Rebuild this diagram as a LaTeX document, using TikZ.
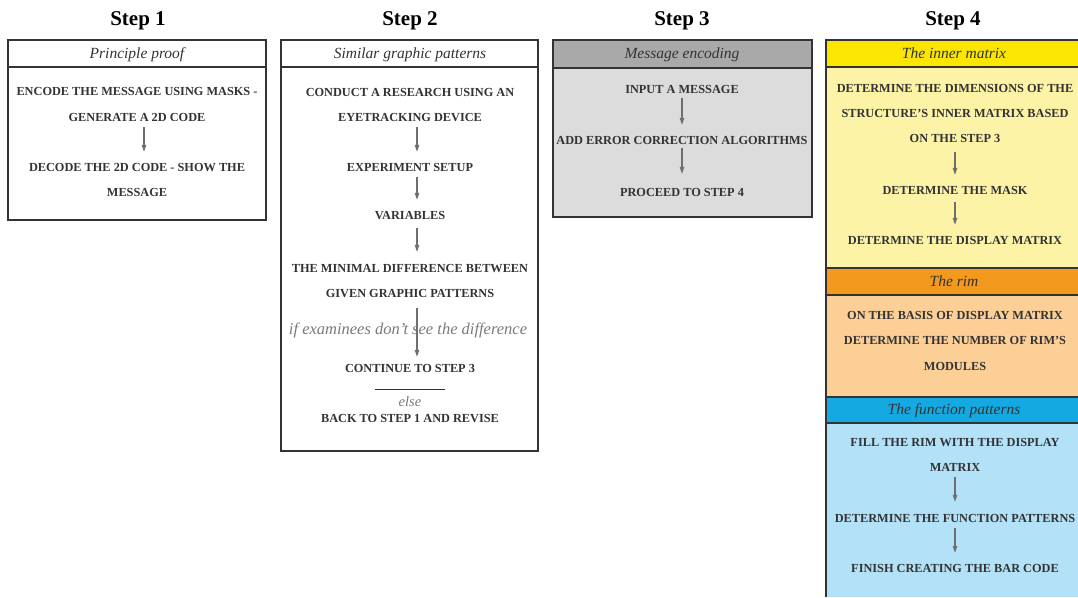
\documentclass[tikz,border=0pt]{standalone}
\usepackage{fontspec}
\setmainfont{Liberation Serif}
\usetikzlibrary{arrows.meta}
\definecolor{ink}{HTML}{333333}
\definecolor{arrowgray}{HTML}{6E6E6E}
\definecolor{condgray}{HTML}{7A7A7A}
\definecolor{grayhead}{HTML}{A9A9A9}
\definecolor{graybody}{HTML}{DCDCDC}
\definecolor{yelhead}{HTML}{FAE600}
\definecolor{yelbody}{HTML}{FCF3A6}
\definecolor{orahead}{HTML}{F39A1E}
\definecolor{orabody}{HTML}{FCCF96}
\definecolor{bluhead}{HTML}{14A9E1}
\definecolor{blubody}{HTML}{B3E1F7}
\begin{document}
\begin{tikzpicture}[x=1pt,y=-1pt,
  stephead/.style={font=\fontsize{21}{21}\selectfont\bfseries, text=black, inner sep=0pt, anchor=base},
  boxttl/.style={font=\fontsize{15.5}{15.5}\selectfont\itshape, text=ink, inner sep=0pt, anchor=base},
  sc/.style={font=\fontsize{12.3}{12.3}\selectfont\bfseries, text=ink, inner sep=0pt, text height=8pt, text depth=0pt},
  condtxt/.style={font=\fontsize{16.5}{16.5}\selectfont\itshape, text=condgray, inner sep=0pt, anchor=base},
  frame/.style={draw=ink, line width=1.1pt},
  flow/.style={draw=arrowgray, line width=1.1pt, -{Triangle[length=7pt,width=4.5pt]}, shorten <=6pt, shorten >=11pt},
]
\useasboundingbox (0,0) rectangle (1078,597);

% ---------- Step headers
\node[stephead] (h1) at (138,25) {Step 1};
\node[stephead] (h2) at (410,25) {Step 2};
\node[stephead] (h3) at (682,25) {Step 3};
\node[stephead] (h4) at (953,25) {Step 4};

% ---------- Box 1
\draw[frame] (8,40) rectangle (266,220);
\draw[frame] (8,67) -- (266,67);
\node[boxttl] (t1) at (137,58) {Principle proof};
\node[sc] (a1) at (137,91) {ENCODE THE MESSAGE USING MASKS -};
\node[sc] (a2) at (137,117) {GENERATE A 2D CODE};
\node[sc] (a3) at (137,167) {DECODE THE 2D CODE - SHOW THE};
\node[sc] (a4) at (137,192) {MESSAGE};
\draw[flow] ([xshift=7pt]a2.south) -- ([xshift=7pt]a3.north);

% ---------- Box 2
\draw[frame] (281,40) rectangle (538,451);
\draw[frame] (281,67) -- (538,67);
\node[boxttl] (t2) at (410,58) {Similar graphic patterns};
\node[sc] (b1) at (410,92) {CONDUCT A RESEARCH USING AN};
\node[sc] (b2) at (410,117) {EYETRACKING DEVICE};
\node[sc] (b3) at (410,167) {EXPERIMENT SETUP};
\node[sc] (b4) at (410,215) {VARIABLES};
\node[sc] (b5) at (410,268) {THE MINIMAL DIFFERENCE BETWEEN};
\node[sc] (b6) at (410,293) {GIVEN GRAPHIC PATTERNS};
\node[condtxt] (cond) at (408,334) {if examinees don’t see the difference};
\node[sc] (b7) at (410,368) {CONTINUE TO STEP 3};
\coordinate (rl) at (375,389);
\coordinate (rr) at (445,389);
\draw[draw=ink, line width=0.8pt] (rl) -- (rr);
\node[condtxt, font=\fontsize{14.5}{14.5}\selectfont\itshape] (else) at (410,406) {else};
\node[sc] (b8) at (410,418) {BACK TO STEP 1 AND REVISE};
\draw[flow] ([xshift=7pt]b2.south) -- ([xshift=7pt]b3.north);
\draw[flow] ([xshift=7pt]b3.south) -- ([xshift=7pt]b4.north);
\draw[flow, shorten <=9pt, shorten >=12pt] ([xshift=7pt]b4.south) -- ([xshift=7pt]b5.north);
\draw[flow, shorten <=11pt, shorten >=7pt] ([xshift=7pt]b6.south) -- ([xshift=7pt]b7.north);

% ---------- Box 3
\draw[frame, fill=graybody] (553,40) rectangle (812,217);
\draw[frame, fill=grayhead] (553,40) rectangle (812,68);
\node[boxttl] (t3) at (682,58) {Message encoding};
\node[sc] (c1) at (682,89) {INPUT A MESSAGE};
\node[sc] (c2) at (682,140) {ADD ERROR CORRECTION ALGORITHMS};
\node[sc] (c3) at (682,192) {PROCEED TO STEP 4};
\draw[flow, shorten <=5pt] (c1) -- (c2);
\draw[flow, shorten <=4pt, shorten >=14pt] (c2) -- (c3);

% ---------- Box 4
\fill[yelbody] (826,67) rectangle (1078,268);
\fill[yelhead] (826,40) rectangle (1078,67);
\fill[orahead] (826,268) rectangle (1078,295);
\fill[orabody] (826,295) rectangle (1078,397);
\fill[bluhead] (826,397) rectangle (1078,423);
\fill[blubody] (826,423) rectangle (1078,597);
\draw[frame] (1078,40) -- (826,40) -- (826,597);
\foreach \yy in {67,268,295,397,423} \draw[frame] (826,\yy) -- (1078,\yy);
\node[boxttl] (t4) at (954,58) {The inner matrix};
\node[sc] (d1) at (955,88) {DETERMINE THE DIMENSIONS OF THE};
\node[sc] (d2) at (955,113) {STRUCTURE’S INNER MATRIX BASED};
\node[sc] (d3) at (955,138) {ON THE STEP 3};
\node[sc] (d4) at (955,190) {DETERMINE THE MASK};
\node[sc] (d5) at (955,240) {DETERMINE THE DISPLAY MATRIX};
\draw[flow, shorten <=10pt] (d3) -- (d4);
\draw[flow, shorten <=8pt] (d4) -- (d5);

\node[boxttl] (t5) at (954,286) {The rim};
\node[sc] (e1) at (955,315) {ON THE BASIS OF DISPLAY MATRIX};
\node[sc] (e2) at (955,340) {DETERMINE THE NUMBER OF RIM’S};
\node[sc] (e3) at (955,366) {MODULES};

\node[boxttl] (t6) at (954,414) {The function patterns};
\node[sc] (f1) at (955,442) {FILL THE RIM WITH THE DISPLAY};
\node[sc] (f2) at (955,467) {MATRIX};
\node[sc] (f3) at (955,518) {DETERMINE THE FUNCTION PATTERNS};
\node[sc] (f4) at (955,568) {FINISH CREATING THE BAR CODE};
\draw[flow, shorten >=12pt] (f2) -- (f3);
\draw[flow] (f3) -- (f4);
\end{tikzpicture}
\end{document}
